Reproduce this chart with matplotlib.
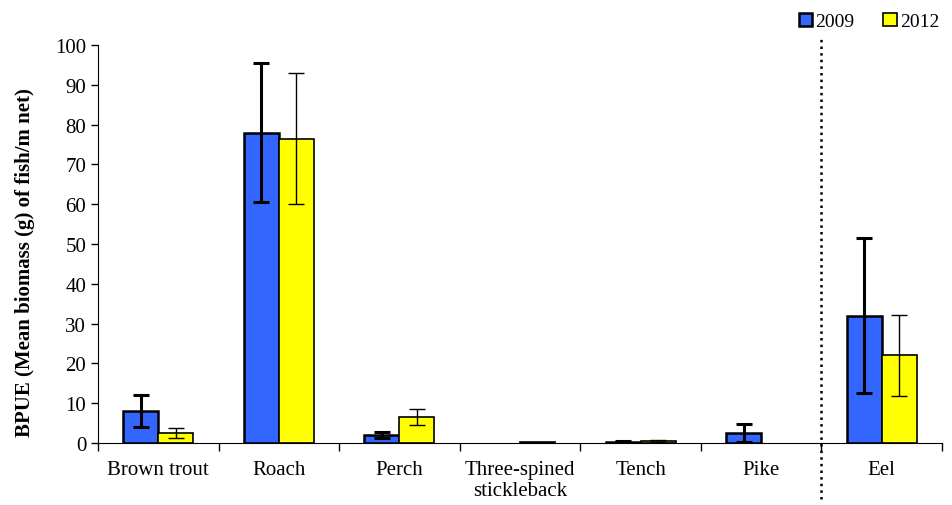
import matplotlib.pyplot as plt
import numpy as np

plt.rcParams['font.family'] = ['Liberation Serif', 'DejaVu Serif']

# data
species = ['Brown trout', 'Roach', 'Perch', 'Three-spined\nstickleback', 'Tench', 'Pike', 'Eel']
bpue_2009 = [8.0, 78.0, 2.0, 0.0, 0.3, 2.5, 32.0]
err_2009 = [4.0, 17.5, 0.7, 0.0, 0.1, 2.2, 19.5]
bpue_2012 = [2.5, 76.5, 6.5, 0.2, 0.5, 0.0, 22.0]
err_2012 = [1.2, 16.5, 2.0, 0.0, 0.3, 0.0, 10.2]

fig = plt.figure(figsize=(9.53, 5.06), dpi=100)
ax = fig.add_axes([0.1028, 0.1225, 0.8857, 0.7865])

x = np.arange(len(species))
w = 0.29

b1 = ax.bar(x - w / 2, bpue_2009, w, color='#3366FF', edgecolor='black', linewidth=1.8,
            label='2009', zorder=2)
b2 = ax.bar(x + w / 2, bpue_2012, w, color='#FFFF00', edgecolor='black', linewidth=1.2,
            label='2012', zorder=2)
# empty bars are not drawn in the original
for p in list(b1) + list(b2):
    if p.get_height() == 0:
        p.set_visible(False)

e09 = [(xi, v, e) for xi, v, e in zip(x - w / 2, bpue_2009, err_2009) if e > 0]
e12 = [(xi, v, e) for xi, v, e in zip(x + w / 2, bpue_2012, err_2012) if e > 0]
ax.errorbar([a[0] for a in e09], [a[1] for a in e09], yerr=[a[2] for a in e09],
            fmt='none', ecolor='black', elinewidth=2.2, capsize=6, capthick=2.2, zorder=3)
ax.errorbar([a[0] for a in e12], [a[1] for a in e12], yerr=[a[2] for a in e12],
            fmt='none', ecolor='black', elinewidth=1.0, capsize=6, capthick=1.0, zorder=3)

ax.set_xlim(-0.5, len(species) - 0.5)
ax.set_ylim(0, 100)
ax.set_yticks(range(0, 101, 10))
ax.set_xticks(x)
ax.set_xticklabels(species, fontsize=15)
ax.tick_params(axis='x', length=0, pad=12)
ax.set_xticks(np.arange(-0.5, len(species)), minor=True)
ax.tick_params(axis='x', which='minor', length=6, width=1, direction='out')
ax.tick_params(axis='y', labelsize=15, length=5, width=1, direction='out')

for s in ['top', 'right']:
    ax.spines[s].set_visible(False)

ax.set_ylabel('BPUE (Mean biomass (g) of fish/m net)', fontsize=15, fontweight='bold')
ax.yaxis.set_label_coords(-0.075, 0.455)

# dotted separator before Eel
ax.plot([5.5, 5.5], [-0.14, 1.02], transform=ax.get_xaxis_transform(),
        color='black', linestyle=':', linewidth=1.8, clip_on=False)

fig.legend(loc='upper right', bbox_to_anchor=(1.0, 1.0), ncol=2, frameon=False,
           fontsize=14, handlelength=0.7, handleheight=0.7, handletextpad=0.15,
           columnspacing=1.5, borderaxespad=0.3)

plt.savefig('out.png', dpi=100)
